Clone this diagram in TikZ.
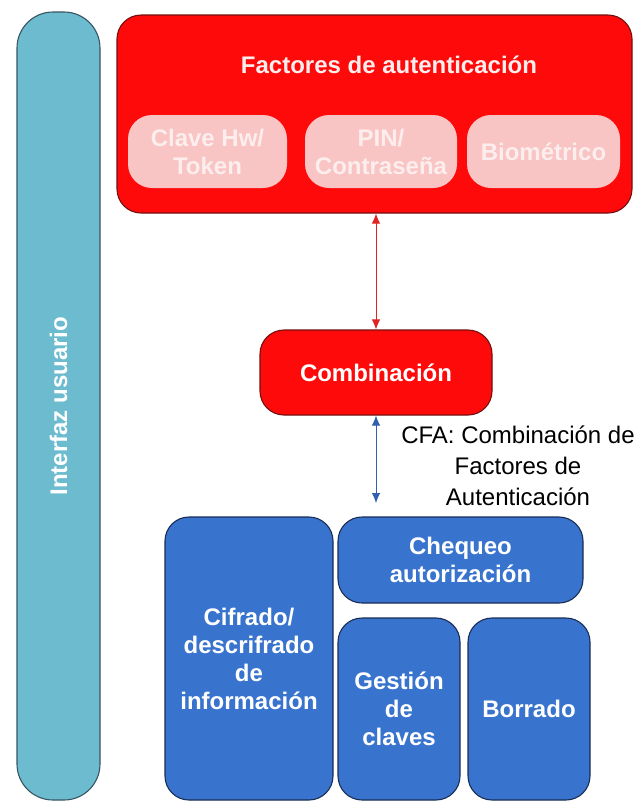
\documentclass[tikz,border=0pt]{standalone}
\usepackage{fontspec}
\setmainfont{Liberation Sans}
\usetikzlibrary{arrows.meta}

\definecolor{facred}{RGB}{255,10,10}
\definecolor{facredline}{RGB}{115,15,15}
\definecolor{facpink}{RGB}{249,196,196}
\definecolor{factext}{RGB}{253,238,238}
\definecolor{modblue}{RGB}{56,116,206}
\definecolor{modblueline}{RGB}{25,45,85}
\definecolor{uiteal}{RGB}{108,187,207}
\definecolor{uitealline}{RGB}{55,85,100}
\definecolor{redarrow}{RGB}{225,35,35}
\definecolor{bluearrow}{RGB}{50,95,175}

\begin{document}
\begin{tikzpicture}[x=1pt, y=-1pt,
    box/.style={draw, rounded corners=24pt, line width=1.1pt, inner sep=0pt,
        align=center, text=white, font=\bfseries\fontsize{24}{28}\selectfont},
    redbox/.style={box, fill=facred, draw=facredline},
    pinkbox/.style={box, draw=none, fill=facpink, text=factext},
    bluebox/.style={box, fill=modblue, draw=modblueline},
    link/.style={line width=0.9pt, {Latex[length=10pt,width=8.5pt]}-{Latex[length=10pt,width=8.5pt]}}]

    \useasboundingbox (0,0) rectangle (640,804);

    % user interface bar
    \node[box, fill=uiteal, draw=uitealline, rounded corners=36pt, rotate=90,
        minimum width=788, minimum height=83] (interfaz) at (58.5,406) {Interfaz usuario};

    % authentication factors
    \node[redbox, minimum width=515, minimum height=198] (factores) at (374.5,114) {};
    \node[text=factext, font=\bfseries\fontsize{24}{28}\selectfont] (factitle) at (389,65) {Factores de autenticación};
    \node[pinkbox, minimum width=159, minimum height=73] (clave) at (207.5,151.5) {Clave Hw/\\Token};
    \node[pinkbox, minimum width=152, minimum height=73] (pin) at (381,151.5) {PIN/\\Contraseña};
    \node[pinkbox, minimum width=153, minimum height=73] (bio) at (543.5,151.5) {Biométrico};

    % combination
    \node[redbox, minimum width=232, minimum height=85] (comb) at (376,372.5) {Combinación};

    % modules
    \node[bluebox, minimum width=168, minimum height=283] (cifrado) at (249,658.5) {Cifrado/\\descrifrado\\de\\información};
    \node[bluebox, minimum width=245, minimum height=86] (chequeo) at (460.5,560) {Chequeo\\autorización};
    \node[bluebox, minimum width=122, minimum height=182] (gestion) at (399,709) {Gestión\\de\\claves};
    \node[bluebox, minimum width=122, minimum height=182] (borrado) at (529,709) {Borrado};

    % arrows
    \coordinate (cfaend) at (376,503);
    \draw[link, redarrow] (factores.south -| comb.north) -- (comb.north);
    \draw[link, bluearrow] (comb.south) -- (cfaend);

    \node[align=center, font=\fontsize{24}{31}\selectfont] (cfa) at (518,466)
        {CFA: Combinación de\\Factores de\\Autenticación};

\end{tikzpicture}
\end{document}
